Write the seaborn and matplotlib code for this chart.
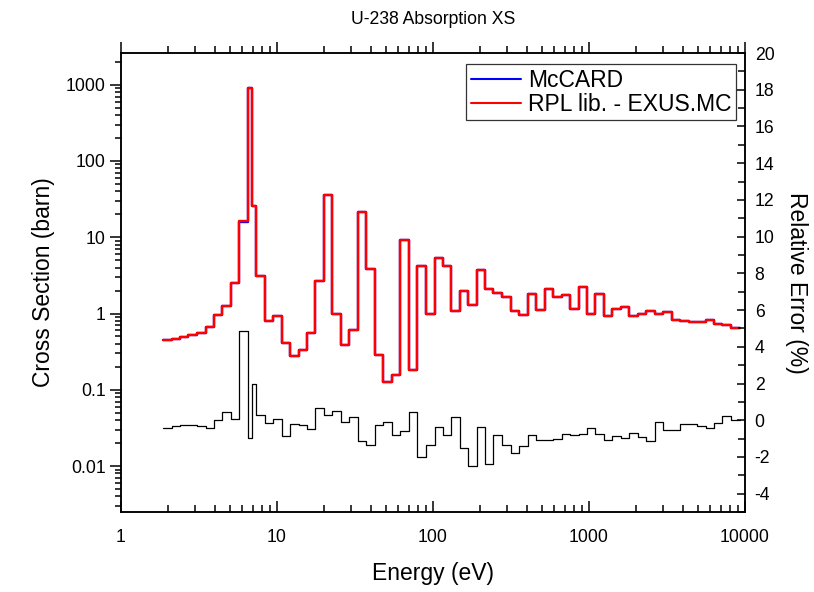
import matplotlib.pyplot as plt
import numpy as np
import pandas as pd
import seaborn as sns
from matplotlib.ticker import NullFormatter, LogLocator, MultipleLocator

# energy group boundaries (eV)
energy_edges = [1.851, 2.113, 2.388, 2.700, 3.057, 3.49, 3.93, 4.46, 5.07, 5.73,
                6.51, 6.91, 7.37, 8.34, 9.42, 10.72, 12.11, 13.77, 15.5, 17.5,
                19.9, 22.5, 25.6, 29.0, 32.9, 37.4, 42.5, 48.0, 54.3, 61.4,
                69.8, 79.3, 90.1, 102.5, 115.3, 130.3, 148.2, 168.3, 190.5, 215.4,
                243.6, 276.9, 314.7, 357.5, 404.6, 457.5, 520, 590.6, 668.4, 755.8,
                859.4, 970.6, 1097, 1247, 1410, 1603, 1812, 2061, 2330, 2649,
                2994, 3388, 3830, 4355, 4923, 5598, 6329, 7158, 8094, 9290]

# absorption cross section per group (barn)
xs_rpl = [0.45, 0.46, 0.49, 0.525, 0.56, 0.66, 0.97, 1.27, 2.5, 16.4,
          900, 25.8, 3.1, 0.8, 0.93, 0.41, 0.275, 0.33, 0.56, 2.65,
          35.6, 1.0, 0.39, 0.6, 21.4, 3.85, 0.29, 0.125, 0.158, 9.3,
          0.18, 4.2, 1.0, 5.4, 4.2, 1.07, 2.0, 1.28, 3.76, 2.1,
          1.86, 1.65, 1.07, 0.96, 1.83, 1.1, 2.1, 1.67, 1.76, 1.15,
          2.2, 1.0, 1.83, 0.92, 1.14, 1.22, 0.92, 1.0, 1.07, 1.0,
          1.04, 0.83, 0.79, 0.78, 0.78, 0.83, 0.73, 0.70, 0.65]
xs_mccard = [0.45, 0.46, 0.49, 0.525, 0.56, 0.66, 0.97, 1.27, 2.5, 16.0,
             900, 25.8, 3.1, 0.8, 0.93, 0.41, 0.275, 0.33, 0.56, 2.65,
             35.6, 1.0, 0.39, 0.6, 21.4, 3.85, 0.29, 0.125, 0.158, 9.3,
             0.18, 4.2, 1.0, 5.4, 4.2, 1.07, 2.0, 1.28, 3.76, 2.1,
             1.86, 1.65, 1.07, 0.96, 1.83, 1.1, 2.1, 1.67, 1.76, 1.15,
             2.2, 1.0, 1.83, 0.92, 1.14, 1.22, 0.92, 1.0, 1.07, 1.0,
             1.04, 0.83, 0.79, 0.78, 0.78, 0.83, 0.73, 0.70, 0.65]

# relative error (%)
rel_error = [-0.45, -0.31, -0.27, -0.25, -0.31, -0.44, 0.0, 0.45, 0.09, 4.86,
             -0.96, 2.0, 0.27, -0.15, 0.09, -0.87, -0.22, -0.25, -0.49, 0.67,
             0.31, 0.51, -0.11, 0.18, -1.13, -1.34, -0.27, -0.11, -0.78, -0.58,
             0.44, -2.0, -1.33, -0.36, -0.80, 0.2, -1.54, -2.49, -0.36, -2.38,
             -0.8, -1.34, -1.78, -1.38, -0.8, -1.05, -1.05, -1.0, -0.73, -0.82,
             -0.73, -0.40, -0.74, -1.05, -0.87, -0.96, -0.69, -0.91, -1.14, -0.11,
             -0.54, -0.51, -0.22, -0.22, -0.31, -0.40, -0.15, 0.24, 0.0]

sns.set_style("ticks")
plt.rcParams['font.family'] = ['Liberation Sans', 'DejaVu Sans']
plt.rcParams['axes.linewidth'] = 1.1
plt.rcParams['axes.unicode_minus'] = False
for k in ['text.color', 'axes.labelcolor', 'axes.edgecolor', 'xtick.color', 'ytick.color']:
    plt.rcParams[k] = 'black'

fig = plt.figure(figsize=(8.14, 5.92), dpi=100)
ax = fig.add_axes([0.1486, 0.1351, 0.7666, 0.7753])
ax2 = ax.twinx()

x = energy_edges
sns.lineplot(x=x, y=xs_mccard + [xs_mccard[-1]], drawstyle='steps-post', sort=False,
             color='blue', lw=1.7, label='McCARD', ax=ax)
sns.lineplot(x=x, y=xs_rpl + [xs_rpl[-1]], drawstyle='steps-post', sort=False,
             color='red', lw=1.7, label='RPL lib. - EXUS.MC', ax=ax)
sns.lineplot(x=x, y=rel_error + [rel_error[-1]], drawstyle='steps-post', sort=False,
             color='black', lw=0.9, legend=False, ax=ax2)

ax.set_xscale('log')
ax.set_yscale('log')
ax.set_xlim(1, 10000)
ax.set_ylim(0.0025, 2600)
ax2.set_ylim(-5, 20)

ax.set_xticks([1, 10, 100, 1000, 10000], labels=['1', '10', '100', '1000', '10000'])
ax.xaxis.set_minor_locator(LogLocator(base=10, subs=np.arange(2, 10)))
ax.xaxis.set_minor_formatter(NullFormatter())
ax.set_yticks([0.01, 0.1, 1, 10, 100, 1000], labels=['0.01', '0.1', '1', '10', '100', '1000'])
ax.yaxis.set_minor_locator(LogLocator(base=10, subs=np.arange(2, 10)))
ax.yaxis.set_minor_formatter(NullFormatter())
ax2.set_yticks(np.arange(-4, 21, 2))
ax2.yaxis.set_minor_locator(MultipleLocator(1))

# top axis ticks drawn from the twin
ax2.xaxis.set_visible(True)
ax2.xaxis.tick_top()
ax2.tick_params(axis='x', which='both', labeltop=False, direction='out')
ax2.tick_params(axis='x', which='major', length=8, width=1.1)
ax2.tick_params(axis='x', which='minor', length=5, width=1.1)

ax.tick_params(axis='x', which='major', direction='in', length=8, width=1.1, labelsize=12.7, pad=12)
ax.tick_params(axis='x', which='minor', direction='in', length=5, width=1.1)
ax.tick_params(axis='y', which='major', direction='out', length=8, width=1.1, labelsize=12.7, pad=3)
ax.tick_params(axis='y', which='minor', direction='out', length=4, width=1.1)
ax2.tick_params(axis='y', which='major', direction='in', length=6, width=1.1, labelsize=12.7, pad=7)
ax2.tick_params(axis='y', which='minor', direction='in', length=5, width=1.1)

ax.set_xlabel('Energy (eV)', fontsize=16.5, labelpad=12)
ax.set_ylabel('Cross Section (barn)', fontsize=16.5, labelpad=8)
ax2.set_ylabel('Relative Error (%)', fontsize=16.5, rotation=270, labelpad=24)
ax.set_title('U-238 Absorption XS', fontsize=12.7, pad=21)

leg = ax.legend(loc='upper right', bbox_to_anchor=(0.9856, 0.976), borderaxespad=0,
                fontsize=16.5, frameon=True, fancybox=False, edgecolor='black',
                handlelength=2.2, handletextpad=0.3, labelspacing=0.05, borderpad=0.2)
leg.get_frame().set_linewidth(0.9)
for h in leg.get_lines():
    h.set_linewidth(1.5)

fig.savefig('out.png', dpi=100)
